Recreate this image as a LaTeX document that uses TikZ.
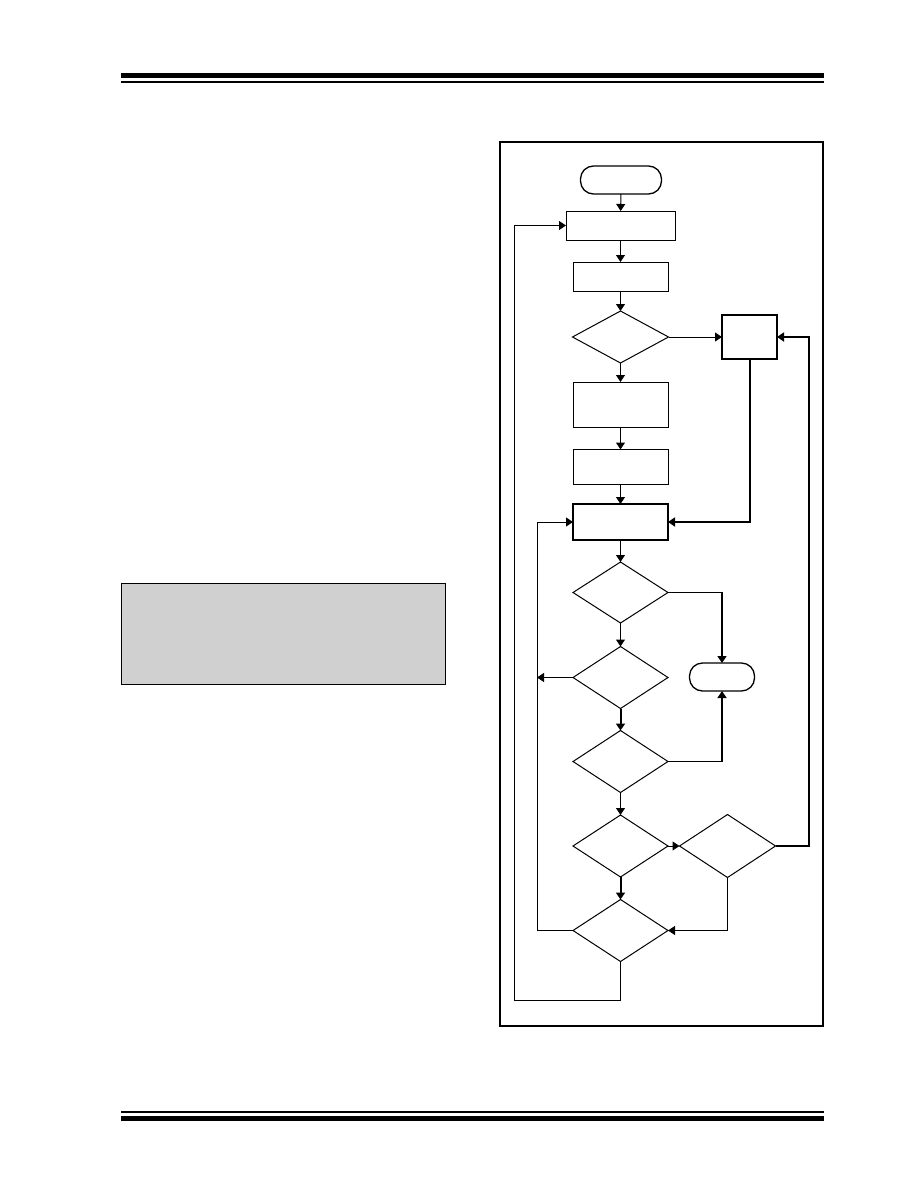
\documentclass[tikz,border=0pt]{standalone}
\usetikzlibrary{shapes.geometric,arrows.meta}
\begin{document}
\begin{tikzpicture}[x=1pt,y=-1pt,
  every node/.style={inner sep=0pt,outer sep=0pt},
  proc/.style={draw,rectangle,line width=1pt,minimum width=95pt},
  dec/.style={draw,diamond,line width=1pt,minimum width=95pt,minimum height=62pt},
  term/.style={draw,rectangle,line width=1.3pt,rounded corners=13pt,minimum height=28pt},
  conn/.style={line width=1pt,-{Triangle[length=7pt,width=9pt]}},
  thickconn/.style={line width=2pt,-{Triangle[length=7pt,width=9pt]}},
  plain/.style={line width=1pt}]
\useasboundingbox (0,0) rectangle (918,1188);
% page rules
\fill (121,73) rectangle (824,78);
\fill (121,81) rectangle (824,83);
\fill (121,1111) rectangle (824,1113);
\fill (121,1116) rectangle (824,1121);
% gray box
\node[draw,line width=1pt,fill={rgb,255:red,208;green,208;blue,208},minimum width=324pt,minimum height=101pt] (note) at (283,633.5) {};
% frame
\node[draw,line width=2pt,minimum width=323pt,minimum height=884pt] (frame) at (661.5,584) {};
% flowchart nodes
\node[term,minimum width=81pt] (start) at (621,180) {};
\node[proc,minimum width=109pt,minimum height=29pt] (b1) at (620.5,225.5) {};
\node[proc,minimum height=29pt] (b2) at (620.5,276.5) {};
\node[dec,minimum width=96pt,minimum height=52pt] (d1) at (620.5,337) {};
\node[draw,rectangle,line width=2pt,minimum width=55pt,minimum height=44pt] (bR) at (749.5,337) {};
\node[proc,minimum height=45pt] (b3) at (620.5,404.5) {};
\node[proc,minimum height=35pt] (b4) at (620.5,467) {};
\node[proc,line width=1.4pt,minimum height=36pt] (b5) at (620.5,522) {};
\node[dec,minimum height=61pt] (d2) at (620.5,592.5) {};
\node[term,minimum width=65pt] (end) at (722,677) {};
\node[dec] (d3) at (620.5,677.5) {};
\node[dec] (d4) at (620.5,761.5) {};
\node[dec] (d5) at (620.5,846) {};
\node[dec,minimum width=96pt,minimum height=63pt] (d6) at (727.5,846) {};
\node[dec] (d7) at (620.5,930.5) {};
\coordinate (L1) at (514.5,1000);
\coordinate (L2) at (537,930.5);
\coordinate (R) at (809,846);
% connectors
\draw[conn] (start) -- (b1);
\draw[conn] (b1) -- (b2);
\draw[conn] (b2) -- (d1);
\draw[conn] (d1) -- (b3);
\draw[conn] (b3) -- (b4);
\draw[conn] (b4) -- (b5);
\draw[conn] (b5) -- (d2);
\draw[conn] (d2) -- (d3);
\draw[thickconn] (d3) -- (d4);
\draw[conn] (d4) -- (d5);
\draw[thickconn] (d5) -- (d7);
\draw[conn] (d1.east) -- (bR.west);
\draw[thickconn] (bR.south) |- (b5.east);
\draw[conn,line width=1.5pt] (d2.east) -| (end.north);
\draw[conn,line width=1.5pt] (d4.east) -| (end.south);
\draw[conn] (d3.west) -- (d3.west -| L2);
\draw[conn] (d5.east) -- (d6.west);
\draw[thickconn] (d6.east) -- (R) |- (bR.east);
\draw[conn] (d6.south) |- (d7.east);
\draw[conn] (d7.west) -- (L2) |- (b5.west);
\draw[conn] (d7.south) |- (L1) |- (b1.west);
\end{tikzpicture}
\end{document}
